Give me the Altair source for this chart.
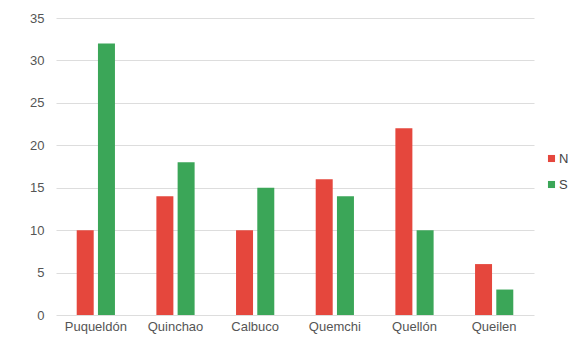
import altair as alt
import pandas as pd

categories = ["Puqueldón", "Quinchao", "Calbuco", "Quemchi", "Quellón", "Queilen"]
series_n = [10, 14, 10, 16, 22, 6]
series_s = [32, 18, 15, 14, 10, 3]
series_names = ["N", "S"]
colors = ["#E5473D", "#3BA658"]

rows = []
for c, n, s in zip(categories, series_n, series_s):
    rows.append({"cat": c, "serie": "N", "val": n})
    rows.append({"cat": c, "serie": "S", "val": s})
df = pd.DataFrame(rows)

font = "Liberation Sans"

chart = alt.Chart(df).mark_bar().encode(
    x=alt.X("cat:N", sort=categories, title=None,
            scale=alt.Scale(paddingInner=0.52, paddingOuter=0.26),
            axis=alt.Axis(labelAngle=0, ticks=False, domain=False, grid=False,
                          labelPadding=5, labelFontSize=13, labelColor="#555555", labelFont=font)),
    xOffset=alt.XOffset("serie:N", sort=series_names,
                        scale=alt.Scale(paddingInner=0.2, paddingOuter=0)),
    y=alt.Y("val:Q", title=None,
            scale=alt.Scale(domain=[0, 35], nice=False),
            axis=alt.Axis(values=[0, 5, 10, 15, 20, 25, 30, 35], ticks=False, domain=False,
                          gridColor="#DDDDDD", labelPadding=12, labelFontSize=13,
                          labelColor="#555555", labelFont=font)),
    color=alt.Color("serie:N", sort=series_names,
                    scale=alt.Scale(domain=series_names, range=colors),
                    legend=alt.Legend(title=None, orient="none", legendX=489, legendY=134,
                                      symbolType="square", symbolSize=50, symbolStrokeWidth=0,
                                      labelFontSize=13, labelColor="#444444", labelFont=font,
                                      rowPadding=12, labelOffset=1)),
).properties(
    width=478, height=297,
    autosize=alt.AutoSizeParams(type="none"),
    padding={"left": 48, "top": 10, "right": 34, "bottom": 20},
).configure_view(stroke=None)

chart.save("out.html", embed_options={"renderer": "svg", "actions": False})
